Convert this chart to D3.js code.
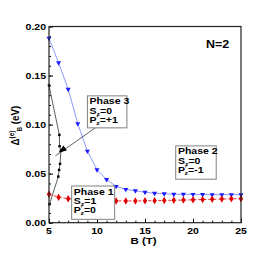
<!DOCTYPE html>
<html>
<head>
<meta charset="utf-8">
<script src="https://cdn.jsdelivr.net/npm/d3@7"></script>
<style>
  body { margin: 0; background: #fff; }
  svg { display: block; }
  text { font-family: "Liberation Sans", Arial, sans-serif; font-weight: bold; fill: #000; }
</style>
</head>
<body>
<svg id="chart" width="259" height="259"></svg>
<script>
// data
const blueB = [5, 6, 7, 8, 9, 10, 11, 12, 13, 14, 15, 16, 17, 18, 19, 20, 21, 22, 23, 24, 25];
const blueVal = [0.188, 0.163, 0.136, 0.101, 0.073, 0.054, 0.044, 0.037, 0.034, 0.0325, 0.031, 0.030, 0.0295,
  0.029, 0.029, 0.0288, 0.0287, 0.0286, 0.0286, 0.0286, 0.0286];
const redB = [5, 6, 7, 8, 9, 10, 11, 12, 13, 14, 15, 16, 17, 18, 19, 20, 21, 22, 23, 24, 25];
const redVal = [0.029, 0.026, 0.0245, 0.0237, 0.023, 0.0226, 0.0223, 0.0222, 0.0222, 0.0222, 0.0223, 0.0225,
  0.0227, 0.0229, 0.0231, 0.0233, 0.0236, 0.0239, 0.0241, 0.0243, 0.0245];
const blackB = [5.0, 6.08, 6.1, 6.25, 6.15, 6.05, 5.97, 5.05];
const blackVal = [0.140, 0.0895, 0.078, 0.0735, 0.060, 0.0538, 0.047, 0.0188];

const xTicks = [5, 10, 15, 20, 25];
const yTicks = [0, 0.05, 0.1, 0.15, 0.2];

const phases = [
  { lines: ["Phase 3", "0", "+1"], b: 9.0, v: 0.1293, w: 39.5, h: 32 },
  { lines: ["Phase 1", "1", "0"], b: 7.36, v: 0.0374, w: 43, h: 33.3 },
  { lines: ["Phase 2", "0", "-1"], b: 18.2, v: 0.0783, w: 40.5, h: 33.3 },
];

const margin = { top: 26.5, right: 18, bottom: 36.3, left: 49 };
const width = 259 - margin.left - margin.right;
const height = 259 - margin.top - margin.bottom;
const sy = 0.85; // text looks squashed vertically

const svg = d3.select("#chart")
  .append("g")
  .attr("transform", `translate(${margin.left},${margin.top})`);

const x = d3.scaleLinear().domain([5, 25]).range([0, width]);
const y = d3.scaleLinear().domain([0, 0.2]).range([height, 0]);

// inward ticks
const tickStyle = (g) => {
  g.select(".domain").remove();
  g.selectAll("line").attr("stroke", "#000").attr("stroke-width", 1);
};
svg.append("g").attr("transform", `translate(0,${height})`)
  .call(d3.axisBottom(x).tickValues(d3.range(5, 26, 1)).tickSize(-2).tickFormat(""))
  .call(tickStyle);
svg.append("g").attr("transform", `translate(0,${height})`)
  .call(d3.axisBottom(x).tickValues(xTicks).tickSize(-4).tickFormat(""))
  .call(tickStyle);
svg.append("g")
  .call(d3.axisLeft(y).tickValues(d3.range(0, 0.2001, 0.01)).tickSize(-2).tickFormat(""))
  .call(tickStyle);
svg.append("g")
  .call(d3.axisLeft(y).tickValues(yTicks).tickSize(-4).tickFormat(""))
  .call(tickStyle);

// tick labels
svg.selectAll(".xlab").data(xTicks).join("text")
  .attr("class", "xlab")
  .attr("text-anchor", "middle")
  .attr("font-size", 10.5)
  .attr("transform", (d) => `translate(${x(d)},${height + 11.3}) scale(1,${sy})`)
  .text((d) => d);
svg.selectAll(".ylab").data(yTicks).join("text")
  .attr("class", "ylab")
  .attr("text-anchor", "end")
  .attr("font-size", 10.5)
  .attr("transform", (d) => `translate(-3,${y(d) + 3.3}) scale(1,${sy})`)
  .text(d3.format(".2f"));

// axis titles
svg.append("text")
  .attr("text-anchor", "middle")
  .attr("font-size", 11.5)
  .attr("transform", `translate(${width / 2 - 1.5},${height + 21.3}) scale(1,${sy})`)
  .text("B (T)");

const yt = svg.append("text")
  .attr("text-anchor", "middle")
  .attr("font-size", 11.5)
  .attr("transform", `translate(-30,${height / 2 + 1}) rotate(-90) scale(${sy},1)`);
yt.append("tspan").text("Δ");
yt.append("tspan").attr("font-size", 7.5).attr("dy", -5).text("(e)");
yt.append("tspan").attr("font-size", 7.5).attr("dy", 8).attr("dx", -1).text("B");
yt.append("tspan").attr("dy", -3).text(" (eV)");

svg.append("text")
  .attr("font-size", 12.5)
  .attr("transform", `translate(${width - 35},${21.8}) scale(1,${sy})`)
  .text("N=2");

// black curve
const lineFn = d3.line().x((d) => x(d[0])).y((d) => y(d[1]));
const black = blackB.map((b, i) => [b, blackVal[i]]);
const blue = blueB.map((b, i) => [b, blueVal[i]]);
const red = redB.map((b, i) => [b, redVal[i]]);

svg.append("path").datum(black)
  .attr("d", lineFn).attr("fill", "none")
  .attr("stroke", "#333").attr("stroke-width", 0.8);
svg.selectAll(".bpt").data(black).join("path")
  .attr("class", "bpt")
  .attr("d", d3.symbol(d3.symbolSquare, 6))
  .attr("transform", (d) => `translate(${x(d[0])},${y(d[1])})`)
  .attr("fill", "#000");

// blue curve
svg.append("path").datum(blue)
  .attr("d", lineFn).attr("fill", "none")
  .attr("stroke", "#6f7dff").attr("stroke-width", 0.8);
svg.selectAll(".tri").data(blue).join("path")
  .attr("class", "tri")
  .attr("d", d3.symbol(d3.symbolTriangle, 11))
  .attr("transform", (d) => `translate(${x(d[0])},${y(d[1])}) rotate(180)`)
  .attr("fill", "#1a1aff");

// red curve
svg.append("path").datum(red)
  .attr("d", lineFn).attr("fill", "none")
  .attr("stroke", "#e01010").attr("stroke-width", 0.9)
  .attr("stroke-dasharray", "3,2");
svg.selectAll(".rpt").data(red).join("path")
  .attr("class", "rpt")
  .attr("d", d3.symbol(d3.symbolDiamond, 16))
  .attr("transform", (d) => `translate(${x(d[0])},${y(d[1])})`)
  .attr("fill", "#e00000");

// pointer from Phase 3 box
const arrowFrom = [10.1, 0.0985];
const arrowTo = [5.65, 0.068];
svg.append("line")
  .attr("x1", x(arrowFrom[0])).attr("y1", y(arrowFrom[1]))
  .attr("x2", x(arrowTo[0])).attr("y2", y(arrowTo[1]))
  .attr("stroke", "#222").attr("stroke-width", 0.7);
const ax = x(6.3), ay = y(0.0735);
const ang = Math.atan2(y(arrowTo[1]) - y(arrowFrom[1]), x(arrowTo[0]) - x(arrowFrom[0])) * 180 / Math.PI;
svg.append("path")
  .attr("d", "M3.5,0 L-4.5,-3 L-4.5,3 Z")
  .attr("transform", `translate(${ax},${ay}) rotate(${ang})`)
  .attr("fill", "#000");

// phase boxes
phases.forEach((p) => {
  const g = svg.append("g").attr("transform", `translate(${x(p.b)},${y(p.v)})`);
  g.append("rect")
    .attr("width", p.w).attr("height", p.h)
    .attr("fill", "#fff").attr("stroke", "#808080").attr("stroke-width", 1);
  g.append("text").attr("font-size", 10.5)
    .attr("transform", `translate(2.2,8.6) scale(1,${sy})`)
    .text(p.lines[0]);
  const s = g.append("text").attr("font-size", 10.5)
    .attr("transform", `translate(2.2,18) scale(1,${sy})`);
  s.append("tspan").text("S");
  s.append("tspan").attr("font-size", 7).attr("dy", 2.5).text("z");
  s.append("tspan").attr("dy", -2.5).text("=" + p.lines[1]);
  const q = g.append("text").attr("font-size", 10.5)
    .attr("transform", `translate(2.2,27.2) scale(1,${sy})`);
  q.append("tspan").text("P");
  q.append("tspan").attr("font-size", 6).attr("dy", -4).text("'");
  q.append("tspan").attr("font-size", 7).attr("dy", 6.5).attr("dx", -1.8).text("z");
  q.append("tspan").attr("dy", -2.5).text("=" + p.lines[2]);
});

// frame
svg.append("rect")
  .attr("width", width).attr("height", height)
  .attr("fill", "none").attr("stroke", "#222").attr("stroke-width", 1.2);
</script>
</body>
</html>
